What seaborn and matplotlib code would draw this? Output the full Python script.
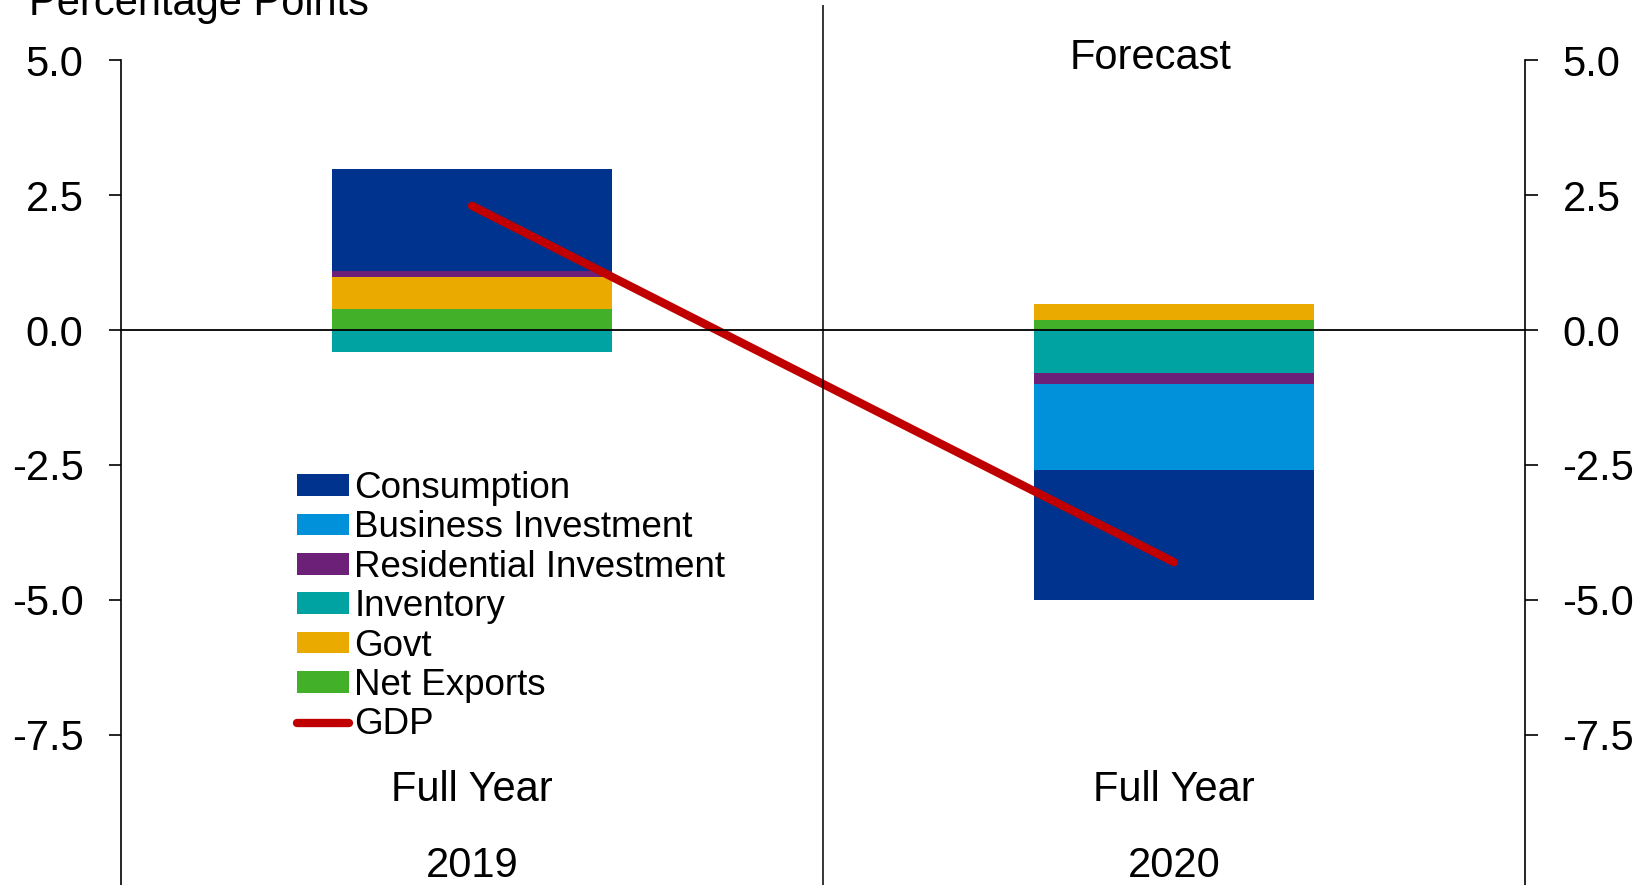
import numpy as np
import pandas as pd
import matplotlib
matplotlib.use('Agg')
import matplotlib.pyplot as plt
from matplotlib.patches import Patch
from matplotlib.lines import Line2D
import seaborn as sns

# Données (points de pourcentage)
years = ['2019', '2020']
period_label = 'Full Year'
# ordre d'empilement depuis zéro
series = ['Net Exports', 'Govt', 'Inventory', 'Residential Investment',
          'Business Investment', 'Consumption']
net_exports = [0.39, 0.19]
govt = [0.60, 0.30]
inventory = [-0.40, -0.80]
residential = [0.10, -0.20]
business = [0.00, -1.60]
consumption = [1.90, -2.40]
gdp = [2.3, -4.3]

legend_order = ['Consumption', 'Business Investment', 'Residential Investment',
                'Inventory', 'Govt', 'Net Exports']
colors = {
    'Consumption': '#00338D',
    'Business Investment': '#0091DA',
    'Residential Investment': '#6D2077',
    'Inventory': '#00A3A1',
    'Govt': '#EAAA00',
    'Net Exports': '#43B02A',
}
gdp_color = '#C00000'

values = {
    'Net Exports': net_exports,
    'Govt': govt,
    'Inventory': inventory,
    'Residential Investment': residential,
    'Business Investment': business,
    'Consumption': consumption,
}

sns.set_theme(style='white')
plt.rcParams['font.family'] = ['Liberation Sans', 'DejaVu Sans']
plt.rcParams['axes.unicode_minus'] = False
plt.rcParams['text.color'] = 'black'

fig = plt.figure(figsize=(16.39, 8.85), dpi=100)
ax = fig.add_axes([121 / 1639, 0, (1525 - 121) / 1639, 880 / 885])

# empilement : positifs et négatifs séparément
pos_base = np.zeros(len(years))
neg_base = np.zeros(len(years))
for name in series:
    v = np.array(values[name])
    bottom = np.where(v >= 0, pos_base, neg_base)
    df = pd.DataFrame({'year': years, 'value': v})
    sns.barplot(data=df, x='year', y='value', order=years, color=colors[name],
                width=0.4, bottom=bottom, ax=ax, linewidth=0, saturation=1)
    pos_base = pos_base + np.where(v >= 0, v, 0)
    neg_base = neg_base + np.where(v < 0, v, 0)

# ligne du PIB
x_pos = np.arange(len(years))
sns.lineplot(x=x_pos, y=gdp, color=gdp_color, linewidth=6, ax=ax,
             solid_capstyle='round')

ymin, ymax = -10.28, 6.02
ax.set_ylim(ymin, ymax)
ax.set_xlim(-0.5, 1.5)
ax.axhline(0, color='black', linewidth=1.3, zorder=3)
ax.axvline(0.5, color='black', linewidth=1.1, zorder=3)

yt = [5.0, 2.5, 0.0, -2.5, -5.0, -7.5]
ax.set_yticks(yt)
ax.set_yticklabels([f'{t:.1f}' for t in yt])
ax.set_xticks([])
ax.set_xlabel('')
ax.set_ylabel('')
for s in ['top', 'bottom']:
    ax.spines[s].set_visible(False)
for s in ['left', 'right']:
    ax.spines[s].set_visible(True)
    ax.spines[s].set_color('black')
    ax.spines[s].set_linewidth(1.2)
    ax.spines[s].set_bounds(ymin, 5.0)
ax.tick_params(axis='y', left=True, right=True, labelleft=True, labelright=True,
               direction='out', length=9, width=1.2, pad=18, labelsize=30,
               colors='black')

# étiquettes de catégories
for i, y in enumerate(years):
    ax.text(i, -8.72, period_label, ha='center', va='baseline', fontsize=30)
    ax.text(i, -10.13, y, ha='center', va='baseline', fontsize=30)

ax.text(0.966, 4.83, 'Forecast', ha='center', va='baseline', fontsize=30)
fig.text(29 / 1639, 1 - 15 / 885, 'Percentage Points', ha='left', va='baseline',
         fontsize=30)

handles = [Patch(facecolor=colors[n], edgecolor='none') for n in legend_order]
handles.append(Line2D([0], [0], color=gdp_color, linewidth=6, solid_capstyle='round'))
labels = legend_order + ['GDP']
ax.legend(handles, labels, loc='upper left', bbox_to_anchor=(297 / 1639, 1 - 471 / 885),
          bbox_transform=fig.transFigure, frameon=False, fontsize=26.5,
          handlelength=1.41, handleheight=0.52, handletextpad=0.15,
          labelspacing=0.12, borderpad=0, borderaxespad=0)

fig.savefig('out.png', dpi=100)
